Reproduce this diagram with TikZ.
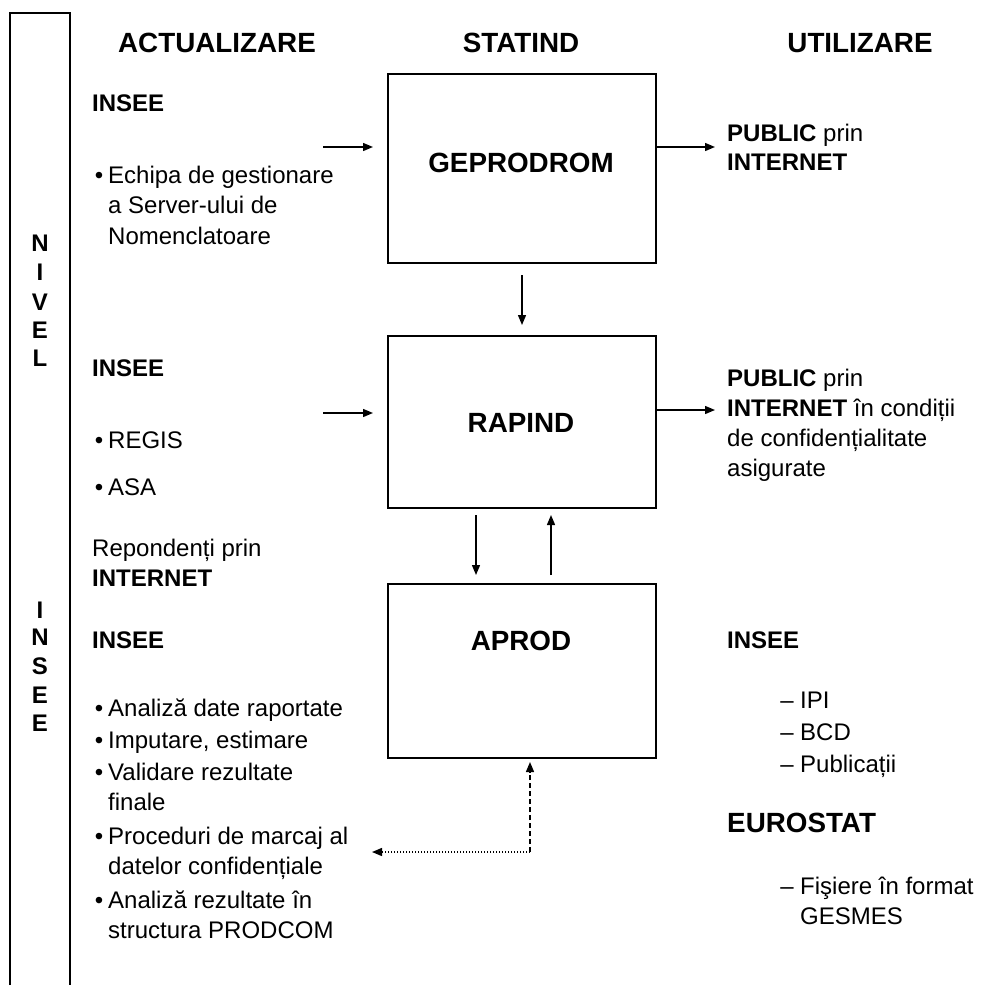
\documentclass[tikz,border=0pt]{standalone}
\usepackage{fontspec}
\setmainfont{Liberation Sans}
\usetikzlibrary{arrows.meta}
\begin{document}
\begin{tikzpicture}[x=1pt,y=-1pt,
  txt/.style={anchor=base west,inner sep=0pt,font=\fontsize{24}{30}\selectfont},
  btxt/.style={txt,font=\fontsize{24}{30}\selectfont\bfseries},
  hdr/.style={anchor=base,inner sep=0pt,font=\fontsize{27.8}{33}\selectfont\bfseries},
  bul/.style={anchor=base,inner sep=0pt,font=\fontsize{24}{30}\selectfont},
  dsh/.style={anchor=base,inner sep=0pt,font=\fontsize{24}{30}\selectfont},
  mainbox/.style={draw,line width=2.4pt,anchor=north west,minimum width=268pt,inner sep=0pt},
  boxtitle/.style={anchor=base,inner sep=0pt,font=\fontsize{27.8}{33}\selectfont\bfseries},
  arr/.style={line width=1.4pt,-{Triangle[length=10pt,width=8pt]}},
  barletter/.style={inner sep=0pt,font=\fontsize{24}{24}\selectfont\bfseries}
]
\useasboundingbox (0,0) rectangle (990,985);
% left bar
\draw[line width=2pt] (10,985) -- (10,13) -- (70,13) -- (70,985);
\foreach \l/\yy [count=\i] in {N/243,I/272,V/302,E/330,L/358}
  \node[barletter] (nv\i) at (40,\yy) {\l};
\foreach \l/\yy [count=\i] in {I/610,N/637,S/666,E/695,E/723}
  \node[barletter] (ns\i) at (40,\yy) {\l};

% headers
\node[hdr] (h1) at (217,52) {ACTUALIZARE};
\node[hdr] (h2) at (521,52) {STATIND};
\node[hdr] (h3) at (860,52) {UTILIZARE};

% boxes
\node[mainbox,minimum height=189pt] (geb) at (387,73) {};
\node[boxtitle] (get) at (521,172) {GEPRODROM};
\node[mainbox,minimum height=172pt] (rab) at (387,335) {};
\node[boxtitle] (rat) at (521,432) {RAPIND};
\node[mainbox,minimum height=174pt] (apb) at (387,583) {};
\node[boxtitle] (apt) at (521,650) {APROD};

% left column, block 1
\node[btxt] (i1) at (92,111) {INSEE};
\node[bul] (b1) at (99,183) {•};
\node[txt] (e1) at (108,183) {Echipa de gestionare};
\node[txt] (e2) at (108,213) {a Server-ului de};
\node[txt] (e3) at (108,244) {Nomenclatoare};

% left column, block 2
\node[btxt] (i2) at (92,376) {INSEE};
\node[bul] (b2) at (99,448) {•};
\node[txt] (r1) at (108,448) {REGIS};
\node[bul] (b3) at (99,495) {•};
\node[txt] (r2) at (108,495) {ASA};
\node[txt] (rp1) at (92,556) {Repondenți prin};
\node[btxt] (rp2) at (92,586) {INTERNET};

% left column, block 3
\node[btxt] (i3) at (92,648) {INSEE};
\node[bul] (b4) at (99,716) {•};
\node[txt] (a1) at (108,716) {Analiză date raportate};
\node[bul] (b5) at (99,748) {•};
\node[txt] (a2) at (108,748) {Imputare, estimare};
\node[bul] (b6) at (99,780) {•};
\node[txt] (a3) at (108,780) {Validare rezultate};
\node[txt] (a3b) at (108,810) {finale};
\node[bul] (b7) at (99,844) {•};
\node[txt] (a4) at (108,844) {Proceduri de marcaj al};
\node[txt] (a4b) at (108,874) {datelor confidențiale};
\node[bul] (b8) at (99,908) {•};
\node[txt] (a5) at (108,908) {Analiză rezultate în};
\node[txt] (a5b) at (108,938) {structura PRODCOM};

% right column
\node[txt] (p1) at (727,141) {\textbf{PUBLIC} prin};
\node[btxt] (p2) at (727,170) {INTERNET};
\node[txt] (q1) at (727,386) {\textbf{PUBLIC} prin};
\node[txt] (q2) at (727,416) {\textbf{INTERNET} în condiții};
\node[txt] (q3) at (727,446) {de confidențialitate};
\node[txt] (q4) at (727,476) {asigurate};
\node[btxt] (i4) at (727,648) {INSEE};
\node[dsh] (d1) at (787,708) {–};
\node[txt] (u1) at (800,708) {IPI};
\node[dsh] (d2) at (787,740) {–};
\node[txt] (u2) at (800,740) {BCD};
\node[dsh] (d3) at (787,772) {–};
\node[txt] (u3) at (800,772) {Publicații};
\node[anchor=base west,inner sep=0pt,font=\fontsize{27.8}{33}\selectfont\bfseries] (eu) at (727,832) {EUROSTAT};
\node[dsh] (d4) at (787,894) {–};
\node[txt] (f1) at (800,894) {Fişiere în format};
\node[txt] (f2) at (800,924) {GESMES};

% connectors
\coordinate (l1s) at (323,147); \coordinate (l1e) at (373,147);
\draw[arr] (l1s) -- (l1e);
\coordinate (r1s) at (geb.east |- 0,147); \coordinate (r1e) at (715,147);
\draw[arr] (r1s) -- (r1e);
\coordinate (d1s) at (522,275); \coordinate (d1e) at (522,325);
\draw[arr] (d1s) -- (d1e);
\coordinate (l2s) at (323,413); \coordinate (l2e) at (373,413);
\draw[arr] (l2s) -- (l2e);
\coordinate (r2s) at (rab.east |- 0,410); \coordinate (r2e) at (715,410);
\draw[arr] (r2s) -- (r2e);
\coordinate (d2s) at (476,515); \coordinate (d2e) at (476,575);
\draw[arr] (d2s) -- (d2e);
\coordinate (u2s) at (551,575); \coordinate (u2e) at (551,515);
\draw[arr] (u2s) -- (u2e);
\coordinate (cor) at (530,852); \coordinate (dtop) at (530,762); \coordinate (dend) at (372,852);
\draw[arr,dashed,dash pattern=on 5pt off 3pt] (cor) -- (dtop);
\draw[arr,dash pattern=on 1.5pt off 1.5pt] (cor) -- (dend);
\end{tikzpicture}
\end{document}
